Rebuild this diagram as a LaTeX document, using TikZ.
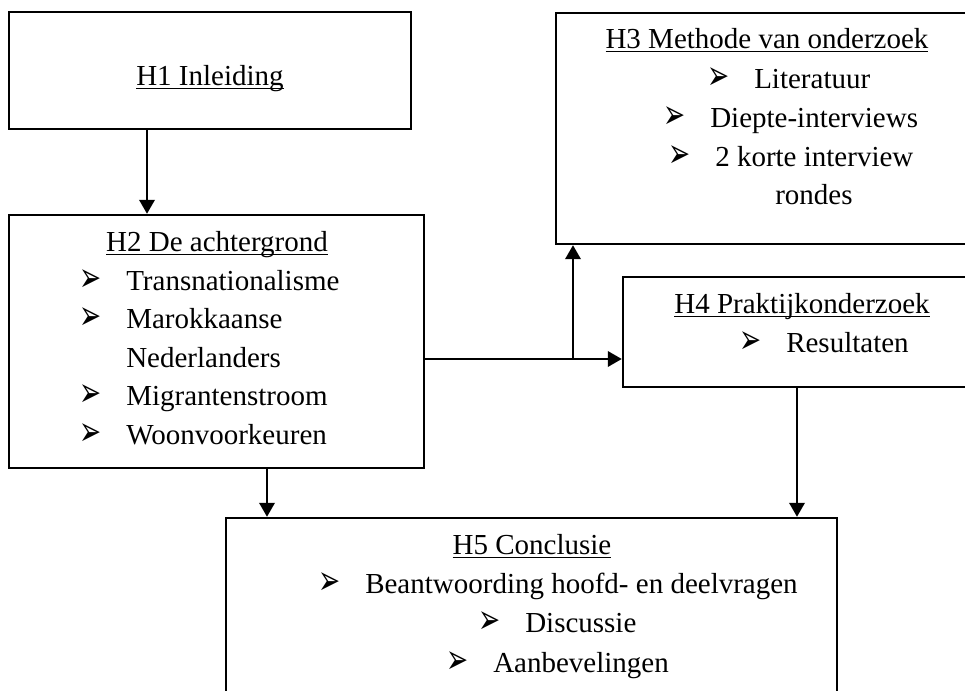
\documentclass[tikz,border=0pt]{standalone}
\usepackage{fontspec}
\setmainfont{Liberation Serif}
\newfontfamily\dingfont{DejaVu Sans}
\usetikzlibrary{arrows.meta, fit}

\newcommand\chapul[1]{\setbox0\hbox{#1}\rlap{\rule[-2.6pt]{\wd0}{1.1pt}}\box0}
\newcommand\arrowbul{\scalebox{0.9}[1.4]{➢}}

\tikzset{
  box/.style={draw, line width=1.8pt, inner sep=0pt},
  link/.style={line width=1.9pt, -{Triangle[length=10.5pt, width=11.5pt]}},
  chaptitle/.style={anchor=base, inner sep=0pt, font=\fontsize{21.75}{26}\selectfont},
  item/.style={anchor=base west, inner sep=0pt, font=\fontsize{21.75}{26}\selectfont},
  bul/.style={anchor=base west, inner sep=0pt, font=\dingfont\fontsize{22}{26}\selectfont},
}

\begin{document}
\begin{tikzpicture}[x=0.75pt, y=-0.75pt]
  \useasboundingbox (0,0) rectangle (965,691);
  \clip (0,0) rectangle (965,691);

  % chapter boxes
  \node[box, fit={(9,12) (411,129)}] (h1) {};
  \node[box, fit={(9,215) (424,468)}] (h2) {};
  \node[box, fit={(556,13) (980,244)}] (h3) {};
  \node[box, fit={(623,277) (980,387)}] (h4) {};
  \node[box, fit={(226,518) (837,730)}] (h5) {};

  % H1
  \node[chaptitle] (t1) at (210,86) {\chapul{H1 Inleiding}};

  % H2
  \node[chaptitle] (t2) at (217,252) {\chapul{H2 De achtergrond}};
  \node[bul] (b21) at (79,292) {\arrowbul};
  \node[item] (i21) at (126,291) {Transnationalisme};
  \node[bul] (b22) at (79,330) {\arrowbul};
  \node[item] (i22) at (126,329) {Marokkaanse};
  \node[item] (i22b) at (126,368) {Nederlanders};
  \node[bul] (b23) at (79,407) {\arrowbul};
  \node[item] (i23) at (126,406) {Migrantenstroom};
  \node[bul] (b24) at (79,446) {\arrowbul};
  \node[item] (i24) at (126,445) {Woonvoorkeuren};

  % H3
  \node[chaptitle] (t3) at (767,49) {\chapul{H3 Methode van onderzoek}};
  \node[bul] (b31) at (707,90) {\arrowbul};
  \node[item] (i31) at (754,89) {Literatuur};
  \node[bul] (b32) at (663,129) {\arrowbul};
  \node[item] (i32) at (710,128) {Diepte-interviews};
  \node[bul] (b33) at (668,168) {\arrowbul};
  \node[item] (i33) at (715,167) {2 korte interview};
  \node[item] (i33b) at (775,205) {rondes};

  % H4
  \node[chaptitle] (t4) at (802,314) {\chapul{H4 Praktijkonderzoek}};
  \node[bul] (b41) at (739,354) {\arrowbul};
  \node[item] (i41) at (786,353) {Resultaten};

  % H5
  \node[chaptitle] (t5) at (532,555) {\chapul{H5 Conclusie}};
  \node[bul] (b51) at (318,595) {\arrowbul};
  \node[item] (i51) at (365,594) {Beantwoording hoofd- en deelvragen};
  \node[bul] (b52) at (478,634) {\arrowbul};
  \node[item] (i52) at (525,633) {Discussie};
  \node[bul] (b53) at (446,673) {\arrowbul};
  \node[item] (i53) at (493,672) {Aanbevelingen};

  % connectors
  \coordinate (c1) at (147,0);
  \coordinate (c2) at (267,0);
  \coordinate (c4) at (797,0);
  \coordinate (split) at (573,359);
  \draw[link] (h1.south -| c1) -- (h2.north -| c1);
  \draw[link] (h2.east |- split) -- (h4.west |- split);
  \draw[link] (split) -- (h3.south -| split);
  \draw[link] (h2.south -| c2) -- (h5.north -| c2);
  \draw[link] (h4.south -| c4) -- (h5.north -| c4);
\end{tikzpicture}
\end{document}
